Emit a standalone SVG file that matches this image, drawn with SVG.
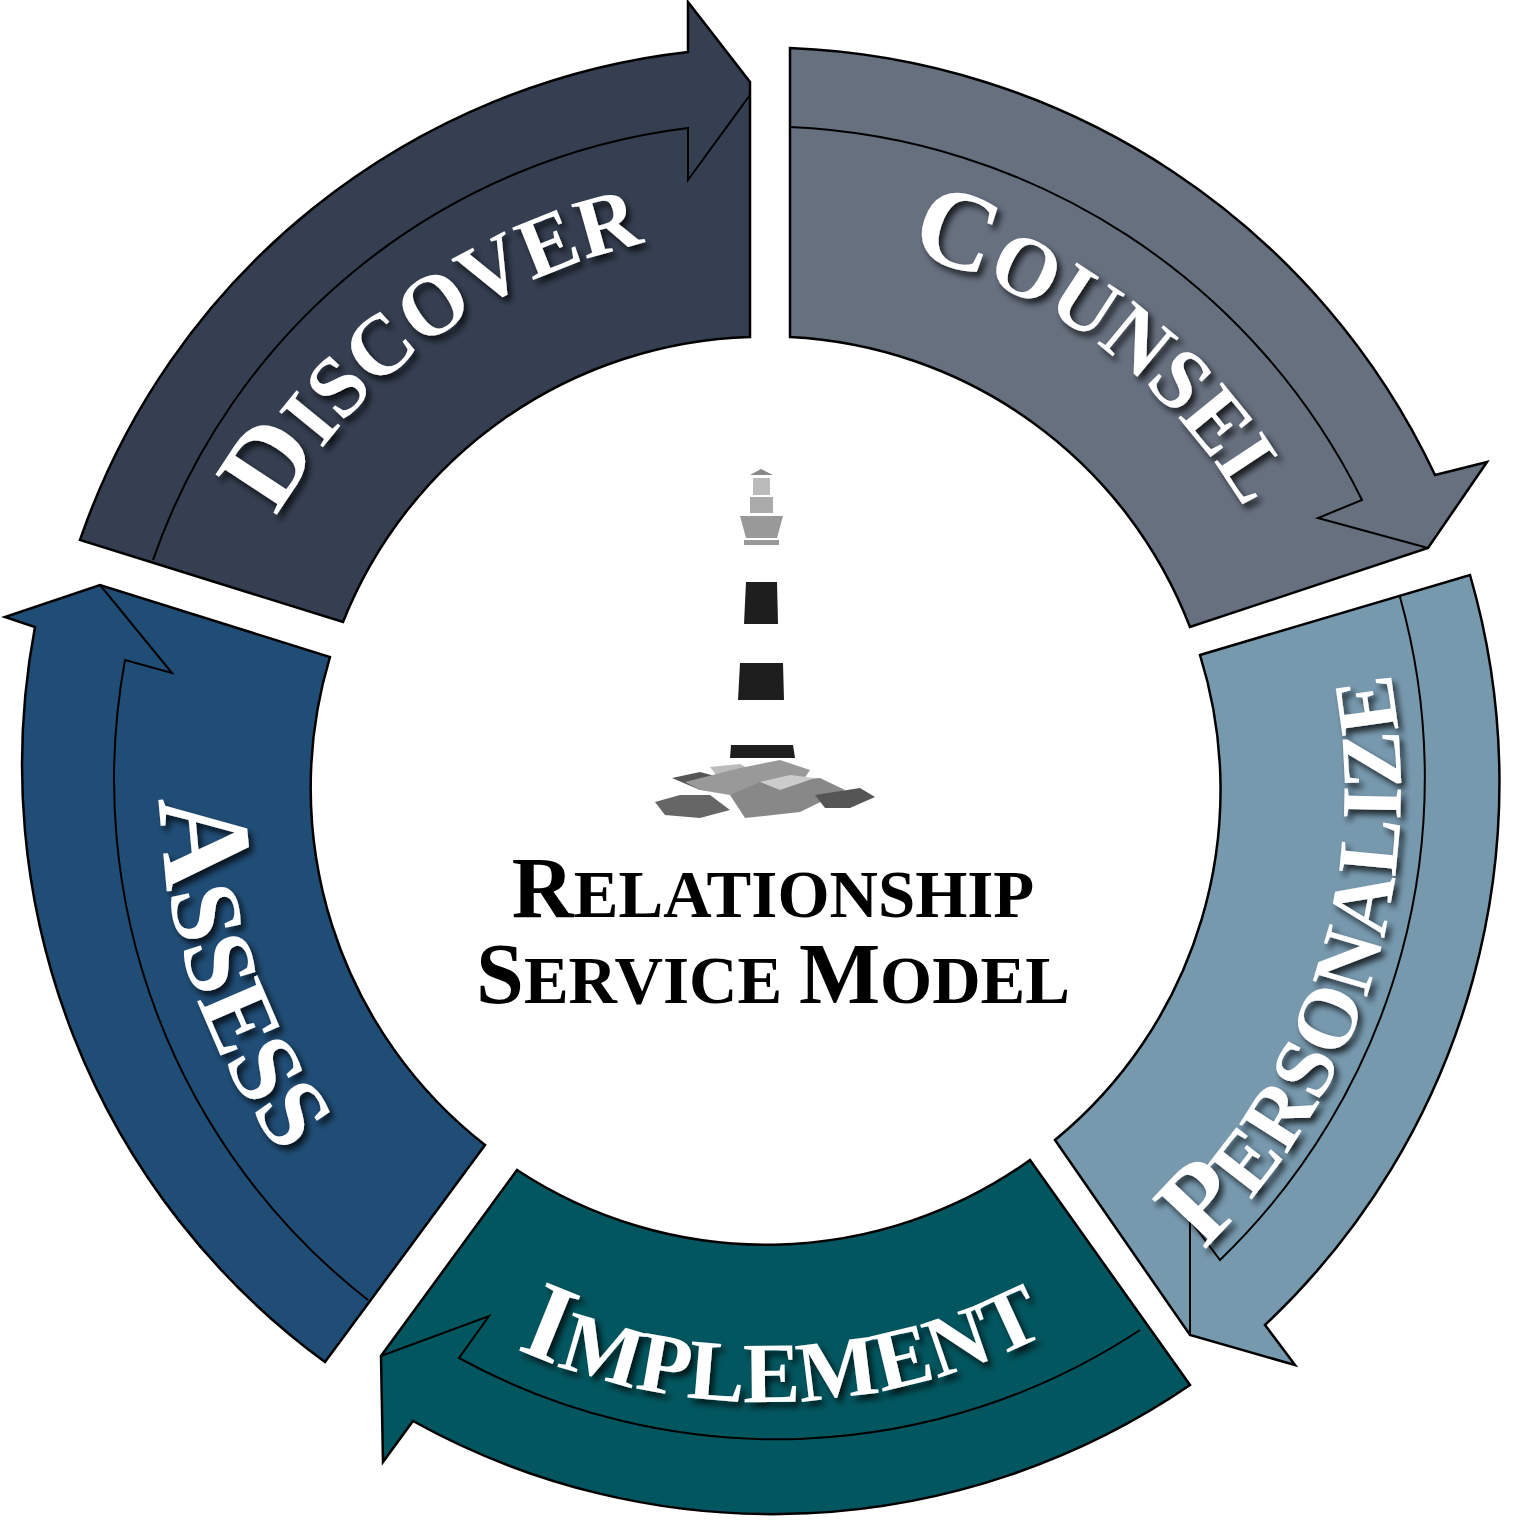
<svg xmlns="http://www.w3.org/2000/svg" width="1532" height="1522" viewBox="0 0 1532 1522">
<style>
.seg{stroke:#000;stroke-width:2.5;stroke-linejoin:miter}
.ln{fill:none;stroke:#000;stroke-width:2}
.lbl{font-family:"Liberation Serif",serif;font-weight:bold;fill:#fff;filter:url(#sh)}
.ctr{font-family:"Liberation Serif",serif;font-weight:bold;fill:#000}
.big{font-size:112px}.sm{font-size:86px}
</style>
<defs>
<filter id="sh" x="-20%" y="-20%" width="140%" height="140%"><feDropShadow dx="4" dy="5" stdDeviation="3" flood-color="#000" flood-opacity="0.75"/></filter>
<path id="cw560" d="M766,230 A560,560 0 0 1 766,1350 A560,560 0 0 1 766,230"/>
<path id="cw555" d="M766,235 A555,555 0 0 1 766,1345 A555,555 0 0 1 766,235"/>
<path id="ccw635" d="M766,155 A635,635 0 0 0 766,1425 A635,635 0 0 0 766,155"/>
<path id="ccw612" d="M766,178 A612,612 0 0 0 766,1402 A612,612 0 0 0 766,178"/>
<path id="ccw606" d="M766,184 A606,606 0 0 0 766,1396 A606,606 0 0 0 766,184"/>
</defs>
<rect width="1532" height="1522" fill="#fff"/>
<g id="discover">
<path class="seg" fill="#353f51" d="M80,540 A730,730 0 0 1 688,52 L688,2 L750,82 L750,337 A453,453 0 0 0 343,622 Z"/>
<path class="ln" d="M153,560 A650,650 0 0 1 688,128 L688,180 L750,95"/>
<text class="lbl"><textPath href="#cw560" startOffset="3160" text-anchor="middle"><tspan class="big">D</tspan><tspan class="sm">ISCOVER</tspan></textPath></text>
</g>
<g id="counsel">
<path class="seg" fill="#67707f" d="M790,48 A745,745 0 0 1 1435,475 L1487,462 L1428,548 L1190,627 A453,453 0 0 0 790,337 Z"/>
<path class="ln" d="M790,127 A670,670 0 0 1 1362,500 L1318,518 L1428,548"/>
<text class="lbl"><textPath href="#cw555" startOffset="360" text-anchor="middle"><tspan class="big">C</tspan><tspan class="sm">OUNSEL</tspan></textPath></text>
</g>
<g id="personalize">
<path class="seg" fill="#7799ae" d="M1200,655 L1470,575 A745,745 0 0 1 1265,1325 L1295,1365 L1190,1335 L1055,1140 A453,453 0 0 0 1200,655 Z"/>
<path class="ln" d="M1400,597 A670,670 0 0 1 1220,1260 L1190,1220 L1190,1335"/>
<text class="lbl"><textPath href="#ccw635" startOffset="2793" text-anchor="middle"><tspan class="big">P</tspan><tspan class="sm">ERSONALIZE</tspan></textPath></text>
</g>
<g id="implement">
<path class="seg" fill="#02565f" d="M517,1170 L381,1356 L383,1462 L413,1421 A740,740 0 0 0 1190,1385 L1030,1160 A453,453 0 0 1 517,1170 Z"/>
<path class="ln" d="M381,1356 L489,1316 L459,1358 A660,660 0 0 0 1140,1330"/>
<text class="lbl"><textPath href="#ccw612" startOffset="1940" text-anchor="middle"><tspan class="big">I</tspan><tspan class="sm">MPLEMENT</tspan></textPath></text>
</g>
<g id="assess">
<path class="seg" fill="#204d76" d="M485,1145 L325,1362 A740,740 0 0 1 35,627 L5,617 L100,585 L330,657 A453,453 0 0 0 485,1145 Z"/>
<path class="ln" d="M100,585 L172,673 L125,660 A660,660 0 0 0 368,1300"/>
<text class="lbl"><textPath href="#ccw606" startOffset="1152" text-anchor="middle"><tspan font-size="130">A</tspan><tspan font-size="100">SSESS</tspan></textPath></text>
</g>
<g id="center">
<path fill="#888" d="M750,475 L761,469 L773,475 Z"/>
<rect x="753" y="478" width="17" height="17" fill="#bbb"/>
<rect x="750" y="497" width="23" height="16" fill="#aaa"/>
<path fill="#999" d="M740,516 L783,516 L777,538 L746,538 Z"/>
<rect x="744" y="540" width="35" height="5" fill="#999"/>
<path fill="#1e1e1e" d="M746,582 L777,582 L778,624 L744,624 Z"/>
<path fill="#1e1e1e" d="M740,663 L783,663 L784,700 L738,700 Z"/>
<path fill="#1e1e1e" d="M731,745 L793,745 L795,758 L730,758 Z"/>
<path fill="#555" d="M672,778 L700,772 L730,780 L700,790 Z"/>
<path fill="#bbb" d="M710,767 L740,764 L760,775 L720,780 Z"/>
<path fill="#999" d="M685,782 L740,768 L780,760 L810,770 L800,785 L760,800 L700,790 Z"/>
<path fill="#666" d="M655,802 L680,795 L710,795 L730,810 L700,818 L665,815 Z"/>
<path fill="#888" d="M730,795 L760,782 L820,778 L845,790 L800,812 L745,818 Z"/>
<path fill="#555" d="M815,795 L860,788 L875,797 L850,808 L825,808 Z"/>
<path fill="#ccc" d="M760,782 L790,775 L815,778 L780,790 Z"/>
<text class="ctr" x="773" y="917" text-anchor="middle"><tspan font-size="86">R</tspan><tspan font-size="67">ELATIONSHIP</tspan></text>
<text class="ctr" x="773" y="1003" text-anchor="middle"><tspan font-size="86">S</tspan><tspan font-size="67">ERVICE </tspan><tspan font-size="86">M</tspan><tspan font-size="67">ODEL</tspan></text>
</g>
</svg>
